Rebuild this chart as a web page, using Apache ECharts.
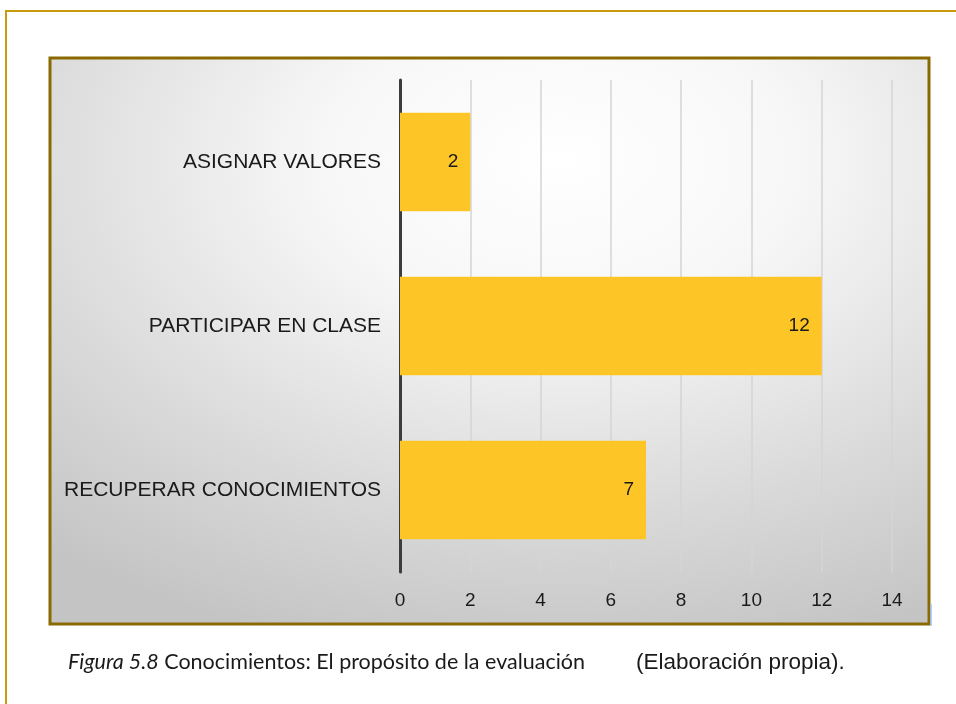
<!DOCTYPE html>
<html>
<head>
<meta charset="utf-8">
<script src="https://cdn.jsdelivr.net/npm/echarts@6/dist/echarts.min.js"></script>
<style>
  html, body { margin: 0; padding: 0; background: #ffffff; }
  #chart { width: 956px; height: 704px; }
</style>
</head>
<body>
<div id="chart"></div>
<script>
// Purposes of the evaluation (top to bottom as drawn)
const categories = ['RECUPERAR CONOCIMIENTOS', 'PARTICIPAR EN CLASE', 'ASIGNAR VALORES'];
const counts = [7, 12, 2];
const xTicks = { min: 0, max: 14, interval: 2 };

const captionLead = 'Figura 5.8';
const captionText = 'Conocimientos: El propósito de la evaluación';
const captionSource = '(Elaboración propia).';

const SANS = '"Liberation Sans", Arial, Helvetica, sans-serif';

// panel box (chart area frame)
const panel = { x: 50, y: 58, w: 879, h: 566 };

const chart = echarts.init(document.getElementById('chart'), null, { renderer: 'canvas' });

chart.setOption({
  animation: false,
  backgroundColor: '#ffffff',
  grid: { left: 400, right: 64, top: 80, bottom: 132, containLabel: false },
  xAxis: {
    type: 'value',
    min: xTicks.min,
    max: xTicks.max,
    interval: xTicks.interval,
    axisLine: { show: false },
    axisTick: { show: false },
    splitLine: { show: true, lineStyle: { color: '#d4d4d4', width: 1.5 } },
    axisLabel: {
      margin: 19,
      color: '#1a1a1a',
      fontFamily: SANS,
      fontSize: 19
    }
  },
  yAxis: {
    type: 'category',
    data: categories,
    axisLine: { show: true, lineStyle: { color: '#3c3c3c', width: 3 } },
    axisTick: { show: false },
    axisLabel: {
      margin: 19,
      color: '#1a1a1a',
      fontFamily: SANS,
      fontSize: 21
    }
  },
  series: [{
    type: 'bar',
    data: counts,
    barCategoryGap: '40%',
    itemStyle: { color: '#fdc526' },
    label: {
      show: true,
      position: 'insideRight',
      distance: 12,
      color: '#1a1a1a',
      fontFamily: SANS,
      fontSize: 19
    },
    z: 3
  }],
  graphic: [
    // outer page frame
    {
      type: 'polyline', z: -10, silent: true,
      shape: { points: [[6, 710], [6, 11], [960, 11]] },
      style: { stroke: '#c89b0c', lineWidth: 2, fill: null }
    },
    // panel shading: a square rect stretched horizontally so the radial fill is elliptical
    {
      type: 'rect', z: -9, silent: true,
      x: panel.x, y: panel.y,
      scaleX: panel.w / panel.h, scaleY: 1,
      shape: { x: 0, y: 0, width: panel.h, height: panel.h },
      style: {
        fill: {
          type: 'radial', x: 0.58, y: 0.18, r: 0.9,
          colorStops: [
            { offset: 0, color: '#ffffff' },
            { offset: 0.3, color: '#f7f7f7' },
            { offset: 0.7, color: '#d9d9d9' },
            { offset: 1, color: '#c4c4c4' }
          ]
        }
      }
    },
    // panel border
    {
      type: 'rect', z: -8, silent: true,
      shape: { x: panel.x, y: panel.y, width: panel.w, height: panel.h },
      style: { fill: null, stroke: '#8a6a00', lineWidth: 3 }
    },
    {
      type: 'line', z: -8, silent: true,
      shape: { x1: 931, y1: 604, x2: 931, y2: 626 },
      style: { stroke: '#9dbcf2', lineWidth: 1.5 }
    },
    // figure caption
    {
      type: 'text', left: 68, top: 651, silent: true,
      style: {
        text: '{i|' + captionLead + '} {n|' + captionText + '}',
        rich: {
          i: { font: 'italic 21.5px Lato, "Open Sans", sans-serif', fill: '#1a1a1a' },
          n: { font: '21.5px Lato, "Open Sans", sans-serif', fill: '#1a1a1a' }
        },
        font: '21.5px Lato, "Open Sans", sans-serif'
      }
    },
    {
      type: 'text', left: 636, top: 651, silent: true,
      style: {
        text: captionSource,
        font: '22.5px ' + SANS,
        fill: '#1a1a1a'
      }
    }
  ]
});
</script>
</body>
</html>
